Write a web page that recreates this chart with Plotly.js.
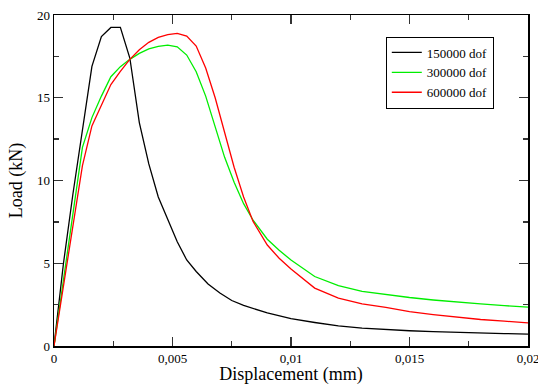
<!DOCTYPE html>
<html>
<head>
<meta charset="utf-8">
<script src="https://cdn.plot.ly/plotly-3.0.1.min.js"></script>
<style>html,body{margin:0;padding:0;background:#fff;}#chart{width:538px;height:385px;}</style>
</head>
<body>
<div id="chart"></div>
<script>
// Series names
const seriesNames = ["150000 dof", "300000 dof", "600000 dof"];

// 150000 dof
const x150 = [0, 0.0004, 0.0008, 0.0012, 0.0016, 0.002, 0.0024, 0.0028, 0.0032, 0.0036, 0.004, 0.0044, 0.0048, 0.0052, 0.0056, 0.006, 0.0065, 0.007, 0.0075, 0.008, 0.009, 0.01, 0.011, 0.012, 0.013, 0.014, 0.015, 0.016, 0.017, 0.018, 0.019, 0.02];
const y150 = [0, 5.0, 9.2, 13.0, 16.9, 18.7, 19.25, 19.25, 17.4, 13.5, 11.0, 9.0, 7.6, 6.3, 5.2, 4.5, 3.75, 3.2, 2.75, 2.45, 2.0, 1.65, 1.42, 1.22, 1.08, 0.99, 0.92, 0.87, 0.82, 0.78, 0.75, 0.72];

// 300000 dof
const x300 = [0, 0.0004, 0.0008, 0.0012, 0.0016, 0.002, 0.0024, 0.0028, 0.0032, 0.0036, 0.004, 0.0044, 0.0048, 0.0052, 0.0056, 0.006, 0.0064, 0.0068, 0.0072, 0.0076, 0.008, 0.0084, 0.009, 0.0095, 0.01, 0.011, 0.012, 0.013, 0.014, 0.015, 0.016, 0.017, 0.018, 0.019, 0.02];
const y300 = [0, 4.1, 8.0, 12.0, 13.8, 15.1, 16.27, 16.88, 17.32, 17.68, 17.95, 18.1, 18.18, 18.08, 17.58, 16.57, 15.1, 13.2, 11.4, 9.9, 8.6, 7.6, 6.45, 5.78, 5.2, 4.2, 3.65, 3.3, 3.1, 2.93, 2.78, 2.65, 2.54, 2.44, 2.35];

// 600000 dof
const x600 = [0, 0.0004, 0.0008, 0.0012, 0.0016, 0.002, 0.0024, 0.0028, 0.0032, 0.0036, 0.004, 0.0044, 0.0048, 0.0052, 0.0056, 0.006, 0.0064, 0.0068, 0.0072, 0.0076, 0.008, 0.0084, 0.009, 0.0095, 0.01, 0.011, 0.012, 0.013, 0.014, 0.015, 0.016, 0.017, 0.018, 0.019, 0.02];
const y600 = [0, 3.7, 7.3, 10.9, 13.3, 14.6, 15.8, 16.6, 17.32, 17.9, 18.35, 18.65, 18.82, 18.89, 18.73, 18.12, 16.8, 15.0, 12.9, 10.8, 9.0, 7.53, 6.1, 5.3, 4.65, 3.5, 2.9, 2.55, 2.33, 2.08, 1.9, 1.75, 1.6, 1.5, 1.4];

// Axis ticks
const xTickVals = [0, 0.005, 0.01, 0.015, 0.02];
const xTickText = ["0", "0,005", "0,01", "0,015", "0,02"];
const yTickVals = [0, 5, 10, 15, 20];
const yTickText = ["0", "5", "10", "15", "20"];

const font = "'Liberation Serif', 'Times New Roman', serif";

const traces = [
  {x: x150, y: y150, name: seriesNames[0], mode: "lines", line: {color: "#000000", width: 1.3}},
  {x: x300, y: y300, name: seriesNames[1], mode: "lines", line: {color: "#00ee00", width: 1.3}},
  {x: x600, y: y600, name: seriesNames[2], mode: "lines", line: {color: "#ff0000", width: 1.3}}
];

const axisCommon = {
  showgrid: false, zeroline: false, showline: true, linecolor: "#000", linewidth: 1.5,
  mirror: "allticks", ticks: "inside", ticklen: 9, tickwidth: 1.3, tickcolor: "#333",
  ticklabeloverflow: "allow",
  tickfont: {family: font, size: 13, color: "#000"}
};

const layout = {
  width: 538, height: 385,
  margin: {l: 54, r: 10, t: 15, b: 39},
  paper_bgcolor: "#fff", plot_bgcolor: "#fff",
  font: {family: font, color: "#000"},
  showlegend: true,
  legend: {
    x: 0.70, y: 0.935, xanchor: "left", yanchor: "top",
    bordercolor: "#000", borderwidth: 1, bgcolor: "#fff",
    font: {family: font, size: 13, color: "#000"},
    itemwidth: 30, tracegroupgap: 0
  },
  xaxis: Object.assign({}, axisCommon, {
    range: [0, 0.02], tickvals: xTickVals, ticktext: xTickText,
    minor: {ticks: "inside", ticklen: 5, dtick: 0.0025, tick0: 0, tickcolor: "#333", tickwidth: 1.3},
    title: {text: "Displacement (mm)", font: {family: font, size: 18, color: "#000"}, standoff: 6}
  }),
  yaxis: Object.assign({}, axisCommon, {
    range: [0, 20], tickvals: yTickVals, ticktext: yTickText,
    minor: {ticks: "inside", ticklen: 5, dtick: 2.5, tick0: 0, tickcolor: "#333", tickwidth: 1.3},
    title: {text: "Load (kN)", font: {family: font, size: 18, color: "#000"}, standoff: 9}
  })
};

Plotly.newPlot("chart", traces, layout, {displayModeBar: false, staticPlot: true});
</script>
</body>
</html>
